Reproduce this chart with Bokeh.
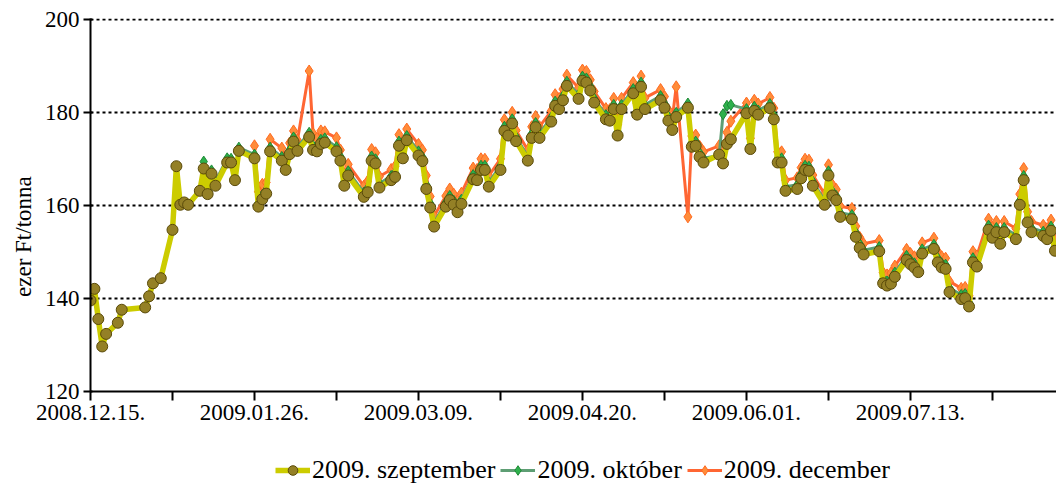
import pandas as pd
from bokeh.plotting import figure
from bokeh.layouts import column
from bokeh.models import (Range1d, FixedTicker, CustomJSTickFormatter, Legend, LegendItem)
from bokeh.embed import file_html
from bokeh.resources import INLINE

# ---------------- data ----------------
dates = [
    "2008-12-15", "2008-12-16", "2008-12-17", "2008-12-18", "2008-12-19", "2008-12-22", "2008-12-23",
    "2008-12-29", "2008-12-30", "2008-12-31", "2009-01-02", "2009-01-05", "2009-01-06", "2009-01-07",
    "2009-01-08", "2009-01-09", "2009-01-12", "2009-01-13", "2009-01-14", "2009-01-15", "2009-01-16",
    "2009-01-19", "2009-01-20", "2009-01-21", "2009-01-22", "2009-01-26", "2009-01-27", "2009-01-28",
    "2009-01-29", "2009-01-30", "2009-02-02", "2009-02-03", "2009-02-04", "2009-02-05", "2009-02-06",
    "2009-02-09", "2009-02-10", "2009-02-11", "2009-02-12", "2009-02-13", "2009-02-16", "2009-02-17",
    "2009-02-18", "2009-02-19", "2009-02-23", "2009-02-24", "2009-02-25", "2009-02-26", "2009-02-27",
    "2009-03-02", "2009-03-03", "2009-03-04", "2009-03-05", "2009-03-06", "2009-03-09", "2009-03-10",
    "2009-03-11", "2009-03-12", "2009-03-13", "2009-03-16", "2009-03-17", "2009-03-18", "2009-03-19",
    "2009-03-20", "2009-03-23", "2009-03-24", "2009-03-25", "2009-03-26", "2009-03-27", "2009-03-30",
    "2009-03-31", "2009-04-01", "2009-04-02", "2009-04-03", "2009-04-06", "2009-04-07", "2009-04-08",
    "2009-04-09", "2009-04-12", "2009-04-13", "2009-04-14", "2009-04-15", "2009-04-16", "2009-04-19",
    "2009-04-20", "2009-04-21", "2009-04-22", "2009-04-23", "2009-04-26", "2009-04-27", "2009-04-28",
    "2009-04-29", "2009-04-30", "2009-05-03", "2009-05-04", "2009-05-05", "2009-05-06", "2009-05-10",
    "2009-05-11", "2009-05-12", "2009-05-13", "2009-05-14", "2009-05-17", "2009-05-18", "2009-05-19",
    "2009-05-20", "2009-05-21", "2009-05-25", "2009-05-26", "2009-05-27", "2009-05-28", "2009-06-01",
    "2009-06-02", "2009-06-03", "2009-06-04", "2009-06-07", "2009-06-08", "2009-06-09", "2009-06-10",
    "2009-06-11", "2009-06-14", "2009-06-15", "2009-06-16", "2009-06-17", "2009-06-18", "2009-06-21",
    "2009-06-22", "2009-06-23", "2009-06-24", "2009-06-25", "2009-06-28", "2009-06-29", "2009-06-30",
    "2009-07-01", "2009-07-05", "2009-07-06", "2009-07-07", "2009-07-08", "2009-07-09", "2009-07-12",
    "2009-07-13", "2009-07-14", "2009-07-15", "2009-07-16", "2009-07-19", "2009-07-20", "2009-07-21",
    "2009-07-22", "2009-07-23", "2009-07-26", "2009-07-27", "2009-07-28", "2009-07-29", "2009-07-30",
    "2009-08-02", "2009-08-03", "2009-08-04", "2009-08-05", "2009-08-06", "2009-08-09", "2009-08-10",
    "2009-08-11", "2009-08-12", "2009-08-13", "2009-08-16", "2009-08-17", "2009-08-18", "2009-08-19",
]

szeptember = [
    139.6, 142.1, 135.6, 129.7, 132.4, 134.8, 137.6,
    138.1, 140.5, 143.3, 144.4, 154.8, 168.5, 160.2,
    160.7, 160.2, 163.2, 168.0, 162.5, 166.9, 164.3,
    169.3, 169.3, 165.5, 171.8, 170.2, 159.8, 161.4,
    162.6, 171.7, 169.7, 167.7, 171.1, 173.8, 171.8,
    174.8, 172.0, 171.7, 173.3, 173.6, 171.7, 169.7,
    164.3, 166.5, 161.9, 162.9, 169.7, 169.1, 163.9,
    165.5, 166.2, 172.9, 170.2, 174.1, 170.8, 169.6,
    163.6, 159.6, 155.5, 159.8, 161.2, 160.2, 158.6,
    160.4, 165.7, 165.5, 167.7, 167.7, 164.1, 167.7,
    176.1, 175.1, 177.7, 173.9, 169.7, 174.6, 176.9,
    174.6, 178.1, 181.5, 180.8, 182.7, 185.8, 183.0,
    186.9, 186.5, 184.8, 182.2, 178.6, 178.3, 180.8,
    175.1, 180.8, 184.2, 179.6, 185.6, 180.8, 182.7,
    181.1, 178.3, 176.3, 179.1, 181.1, 172.7, 172.9,
    170.5, 169.3, 171.0, 169.1, 173.3, 174.3, 179.9,
    172.2, 180.4, 179.6, 181.0, 178.6, 169.3, 169.3,
    163.2, 163.6, 165.9, 167.7, 167.5, 164.3, 160.2,
    166.5, 162.2, 161.2, 157.6, 157.1, 153.3, 150.9,
    149.5, 150.2, 143.3, 142.8, 143.2, 144.7, 148.3,
    147.4, 146.7, 145.7, 149.7, 150.7, 147.8, 146.7,
    146.4, 141.4, 139.9, 140.1, 138.3, 147.8, 146.9,
    154.8, 153.1, 154.3, 151.8, 154.3, 152.8, 160.2,
    165.5, 156.4, 154.3, 153.5, 152.8, 154.6, 150.3,
]

# October contract: quoted from 2009-01-13
oktober = [
    169.5, 163.3, 167.6, 165.2,
    170.2, 170.1, 166.3, 172.5, 171.0, 160.6, 162.3,
    163.4, 172.5, 170.5, 168.6, 172.0, 174.7, 172.6,
    175.7, 172.9, 172.6, 174.2, 174.5, 172.6, 170.6,
    165.2, 167.4, 162.8, 163.8, 170.6, 170.0, 164.8,
    166.4, 167.1, 173.8, 171.1, 175.0, 171.7, 170.5,
    164.5, 160.5, 156.4, 160.7, 162.1, 161.1, 159.5,
    161.3, 166.6, 166.4, 168.6, 168.6, 165.0, 168.6,
    177.0, 176.0, 178.6, 174.8, 170.6, 175.5, 177.8,
    175.5, 179.0, 182.4, 181.7, 183.6, 186.7, 183.9,
    187.8, 187.4, 185.7, 183.1, 179.5, 179.2, 181.7,
    176.0, 181.7, 185.1, 180.5, 186.5, 181.7, 183.6,
    182.0, 179.2, 177.2, 180.0, 182.0, 173.6, 173.8,
    171.4, 170.2, 170.8, 179.7, 181.5, 181.7, 180.8,
    173.1, 181.3, 180.5, 181.9, 179.5, 170.2, 170.2,
    164.1, 164.5, 166.8, 168.6, 168.4, 165.2, 161.1,
    167.4, 163.1, 162.1, 158.5, 158.0, 154.2, 151.8,
    150.4, 151.1, 144.2, 143.7, 144.1, 145.6, 149.2,
    148.3, 147.6, 146.6, 150.6, 151.6, 148.7, 147.6,
    147.3, 142.3, 140.8, 141.0, 139.2, 148.7, 147.8,
    155.7, 154.0, 155.2, 152.7, 155.2, 153.7, 161.1,
    166.4, 157.3, 155.2, 154.4, 153.7, 155.5, 151.2,
]

# December contract: quoted from 2009-01-26
december = [
    172.9, 163.0, 164.6,
    165.0, 174.3, 172.4, 170.0, 173.5, 176.1, 174.1,
    189.0, 175.5, 174.5, 176.1, 175.9, 174.6, 172.0,
    166.8, 168.9, 164.2, 165.3, 172.1, 171.4, 166.3,
    167.8, 168.5, 175.3, 172.5, 176.5, 173.2, 172.0,
    166.5, 162.0, 157.8, 162.1, 163.6, 162.5, 161.0,
    162.7, 168.1, 167.8, 170.1, 170.0, 166.4, 170.1,
    178.5, 177.4, 180.1, 176.2, 172.0, 177.0, 179.2,
    177.0, 180.4, 183.9, 183.1, 185.1, 188.1, 185.4,
    189.2, 188.9, 187.1, 184.6, 180.9, 180.7, 183.1,
    177.5, 183.1, 186.5, 182.0, 187.9, 183.2, 185.0,
    183.5, 180.6, 178.7, 185.6, 157.6, 175.0, 175.2,
    172.8, 171.6, 172.9, 171.8, 175.8, 178.2, 182.1,
    174.5, 182.7, 181.9, 183.3, 181.0, 171.6, 171.6,
    165.5, 166.0, 168.2, 170.0, 169.8, 166.6, 162.5,
    168.8, 164.5, 163.5, 159.9, 159.4, 155.6, 153.2,
    151.8, 152.5, 145.6, 145.1, 145.5, 147.0, 150.6,
    149.7, 149.0, 148.0, 152.0, 153.0, 150.1, 149.0,
    148.7, 143.7, 142.2, 142.4, 140.6, 150.1, 149.2,
    157.1, 155.4, 156.6, 154.1, 156.6, 155.1, 162.5,
    168.0, 158.7, 156.6, 155.8, 155.1, 156.9, 152.6,
]

series_names = ["2009. szeptember", "2009. október", "2009. december"]
y_label = "ezer Ft/tonna"
y_ticks = [120, 140, 160, 180, 200]

# ---------------- styles ----------------
FONT = "Liberation Serif"
DAY = 86400000
STY = {
    "dec_line": dict(line_color="#FF6633", line_width=3),
    "dec_mark": dict(marker="diamond", size=12, fill_color="#FF8C3A", line_color="#FF6A20", line_width=1),
    "okt_line": dict(line_color="#5E9E74", line_width=3),
    "okt_mark": dict(marker="diamond", size=11, fill_color="#2DB04B", line_color="#1E8A36", line_width=1),
    "sep_line": dict(line_color="#CCCC00", line_width=5.5),
    "sep_mark": dict(marker="circle", size=11, fill_color="#948026", line_color="#5A4A0A", line_width=1),
}

x_sep = pd.to_datetime(dates)
x_okt = x_sep[len(x_sep) - len(oktober):]
x_dec = x_sep[len(x_sep) - len(december):]


def draw_series(fig):
    r = {}
    r["dec_l"] = fig.line(x_dec, december, **STY["dec_line"])
    r["dec_m"] = fig.scatter(x_dec, december, **STY["dec_mark"])
    r["okt_l"] = fig.line(x_okt, oktober, **STY["okt_line"])
    r["okt_m"] = fig.scatter(x_okt, oktober, **STY["okt_mark"])
    r["sep_l"] = fig.line(x_sep, szeptember, **STY["sep_line"])
    r["sep_m"] = fig.scatter(x_sep, szeptember, **STY["sep_mark"])
    return r


# ---------------- main chart ----------------
start = pd.Timestamp("2008-12-15")
x_end = start + pd.Timedelta(days=247.4)

p = figure(width=1056, height=440, x_axis_type="datetime",
           x_range=Range1d(start, x_end), y_range=Range1d(120, 200.3),
           output_backend="svg", toolbar_location=None,
           min_border_left=90, min_border_right=0, min_border_top=18,
           min_border_bottom=49)
p.outline_line_color = None
p.background_fill_color = "white"
p.border_fill_color = "white"
draw_series(p)

start_ms = start.value // 10**6
p.xaxis.ticker = FixedTicker(ticks=[start_ms + k * 21 * DAY for k in range(0, 13)])
p.xaxis.formatter = CustomJSTickFormatter(code="""
    const start = Date.UTC(2008, 11, 15);
    const days = Math.round((tick - start) / 86400000);
    if (days % 42 !== 0) return "";
    const d = new Date(tick);
    const mm = String(d.getUTCMonth() + 1).padStart(2, "0");
    const dd = String(d.getUTCDate()).padStart(2, "0");
    return d.getUTCFullYear() + "." + mm + "." + dd + ".";
""")
p.yaxis.ticker = FixedTicker(ticks=y_ticks)

for ax in (p.xaxis[0], p.yaxis[0]):
    ax.axis_line_color = "black"
    ax.axis_line_width = 2
    ax.major_tick_line_color = "black"
    ax.major_tick_line_width = 2
    ax.minor_tick_line_color = None
    ax.major_label_text_font = FONT
    ax.major_label_text_font_size = "23px"
    ax.major_label_text_color = "black"

p.xaxis.major_tick_out = 9
p.xaxis.major_tick_in = 0
p.xaxis.major_label_standoff = 4
p.yaxis.major_tick_out = 7
p.yaxis.major_tick_in = 2
p.yaxis.major_label_standoff = 4

p.yaxis.axis_label = y_label + "\u00a0" * 11
p.yaxis.axis_label_text_font = FONT
p.yaxis.axis_label_text_font_size = "23px"
p.yaxis.axis_label_text_font_style = "normal"
p.yaxis.axis_label_text_color = "black"
p.yaxis.axis_label_standoff = 6

p.xgrid.grid_line_color = None
p.ygrid.grid_line_color = "black"
p.ygrid.grid_line_width = 2
p.ygrid.grid_line_dash = "3 3"

# ---------------- legend strip ----------------
pl = figure(width=1056, height=45, x_range=Range1d(0, 1), y_range=Range1d(0, 1),
            output_backend="svg", toolbar_location=None,
            x_axis_location=None, y_axis_location=None,
            min_border_left=0, min_border_right=0, min_border_top=0, min_border_bottom=0)
pl.outline_line_color = None
pl.xgrid.grid_line_color = None
pl.ygrid.grid_line_color = None
pl.background_fill_color = "white"
pl.border_fill_color = "white"
lr = draw_series(pl)  # series lie outside this strip's ranges; used for legend glyphs

legend = Legend(items=[
    LegendItem(label=series_names[0], renderers=[lr["sep_l"], lr["sep_m"]]),
    LegendItem(label=series_names[1], renderers=[lr["okt_l"], lr["okt_m"]]),
    LegendItem(label=series_names[2], renderers=[lr["dec_l"], lr["dec_m"]]),
], orientation="horizontal", location=(185, 0))
legend.label_text_font = FONT
legend.label_text_font_size = "26px"
legend.label_text_color = "black"
legend.border_line_color = None
legend.background_fill_alpha = 0
legend.glyph_width = 35
legend.glyph_height = 24
legend.label_standoff = 2
legend.spacing = 5
legend.padding = 2
legend.margin = 0
pl.add_layout(legend, "center")

layout = column(p, pl, spacing=0)
open("out.html", "w").write(file_html(layout, INLINE))
